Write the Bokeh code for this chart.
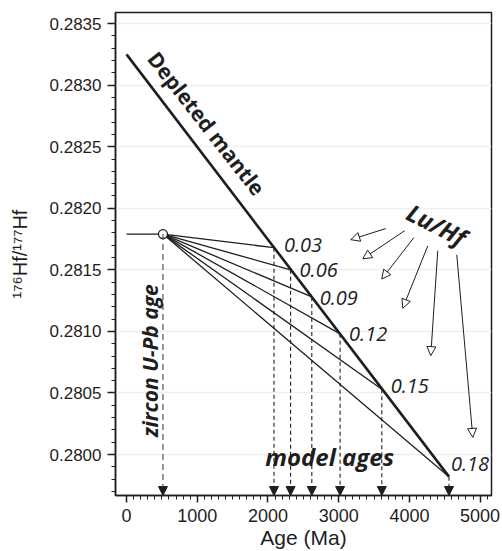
from bokeh.plotting import figure
from bokeh.models import (Label, Arrow, NormalHead, FixedTicker, PrintfTickFormatter,
                          ColumnDataSource, Range1d)
from bokeh.embed import file_html
from bokeh.resources import INLINE
from bokeh.core.properties import value

# ---------------- data ----------------
dm_age = [0, 4560]
dm_hf = [0.28325, 0.27982]
zircon_age = 515
zircon_hf = 0.28179
lu_hf_labels = ["0.03", "0.06", "0.09", "0.12", "0.15", "0.18"]
model_age = [2085, 2320, 2620, 3020, 3610, 4560]
model_hf = [0.28168, 0.28150, 0.28128, 0.28098, 0.28053, 0.27982]
x_ticks = [0, 1000, 2000, 3000, 4000, 5000]
y_ticks = [0.2800, 0.2805, 0.2810, 0.2815, 0.2820, 0.2825, 0.2830, 0.2835]

# ---------------- layout / style ----------------
X0, X1 = -156, 5161
Y0, Y1 = 0.279667, 0.28359
INK = "#1e1e1e"
AX_FONT = "Liberation Sans"
TXT_FONT = "Open Sans"

p = figure(width=500, height=551, x_range=Range1d(X0, X1), y_range=Range1d(Y0, Y1),
           output_backend="svg", toolbar_location=None,
           min_border_left=115, min_border_top=12, min_border_right=9, min_border_bottom=0)

p.outline_line_color = INK
p.outline_line_width = 1.5
p.xgrid.visible = False
p.ygrid.grid_line_color = "#efefef"
p.ygrid.grid_line_width = 1.5

x_minor = [v for v in range(100, 5200, 100) if v % 1000 != 0]
y_minor = [round(0.2797 + 0.0001 * i, 4) for i in range(0, 39)]
y_minor = [v for v in y_minor if round(v * 10000) % 5 != 0]
p.xaxis.ticker = FixedTicker(ticks=x_ticks, minor_ticks=x_minor)
p.yaxis.ticker = FixedTicker(ticks=y_ticks, minor_ticks=y_minor)
p.ygrid.ticker = FixedTicker(ticks=y_ticks)
p.yaxis.formatter = PrintfTickFormatter(format="%.4f")

for ax in (p.xaxis[0], p.yaxis[0]):
    ax.axis_line_color = INK
    ax.axis_line_width = 1.5
    ax.major_tick_line_color = INK
    ax.major_tick_line_width = 1.5
    ax.minor_tick_line_color = INK
    ax.minor_tick_line_width = 1
    ax.major_tick_in = 0
    ax.minor_tick_in = 0
    ax.major_label_text_font = AX_FONT
    ax.major_label_text_color = INK
    ax.axis_label_text_font = AX_FONT
    ax.axis_label_text_color = INK
    ax.axis_label_text_font_style = "normal"

p.xaxis.major_tick_out = 7
p.xaxis.minor_tick_out = 4
p.xaxis.major_label_standoff = 6
p.xaxis.major_label_text_font_size = "18px"
p.xaxis.axis_label = "Age (Ma)"
p.xaxis.axis_label_text_font_size = "21px"
p.xaxis.axis_label_standoff = 1

p.yaxis.major_tick_out = 8
p.yaxis.minor_tick_out = 4
p.yaxis.major_label_standoff = 6
p.yaxis.major_label_text_font_size = "17px"
p.yaxis.axis_label = "\u00b9\u2077\u2076Hf/\u00b9\u2077\u2077Hf"
p.yaxis.axis_label_text_font_size = "20px"
p.yaxis.axis_label_standoff = 16

# ---------------- marks ----------------
# depleted mantle
p.line(dm_age, dm_hf, line_width=2.6, line_color=INK)
# initial ratio line before crystallisation
p.line([0, zircon_age], [zircon_hf, zircon_hf], line_width=1.3, line_color=INK)
# Lu/Hf evolution lines
p.segment(x0=[zircon_age] * len(model_age), y0=[zircon_hf] * len(model_age),
          x1=model_age, y1=model_hf, line_width=1.3, line_color=INK)

# dashed arrows to model ages
arr_src = ColumnDataSource(dict(x=model_age, y=model_hf, ye=[Y0] * len(model_age)))
p.add_layout(Arrow(source=arr_src, x_start="x", y_start="y", x_end="x", y_end="ye",
                   line_dash="4 3", line_width=1.1, line_color=INK,
                   end=NormalHead(size=9, fill_color=INK, line_color=INK, line_width=1)))
# zircon age arrow
p.add_layout(Arrow(x_start=zircon_age, y_start=zircon_hf, x_end=zircon_age, y_end=Y0,
                   line_dash="6 4", line_width=1.2, line_color="#555555",
                   end=NormalHead(size=9, fill_color=INK, line_color=INK, line_width=1)))

# zircon point
p.scatter([zircon_age], [zircon_hf], marker="circle", size=9,
          fill_color="white", line_color=INK, line_width=1.3)

# Lu/Hf value labels
lbl_src = ColumnDataSource(dict(x=model_age, y=model_hf, t=lu_hf_labels,
                                dx=[10, 9, 8, 9, 9, 2], dy=[-3, 0, 1, 0, -3, -13]))
p.text(x="x", y="y", text="t", x_offset="dx", y_offset="dy", source=lbl_src,
       text_font=value(TXT_FONT), text_font_style="italic", text_font_size="20px",
       text_color=INK, text_align="left", text_baseline="middle")

# text annotations
p.add_layout(Label(x=1132, y=0.28269, text="Depleted mantle", angle=-52, angle_units="deg",
                   text_align="center", text_baseline="middle", text_font=TXT_FONT,
                   text_font_size="21px", text_font_style="bold", text_color=INK))
p.add_layout(Label(x=4387, y=0.281868, text="Lu/Hf", angle=-27, angle_units="deg",
                   text_align="center", text_baseline="middle", text_font=TXT_FONT,
                   text_font_size="24px", text_font_style="bold italic", text_color=INK))
p.add_layout(Label(x=325, y=0.280762, text="zircon U-Pb age", angle=90, angle_units="deg",
                   text_align="center", text_baseline="middle", text_font=TXT_FONT,
                   text_font_size="21px", text_font_style="bold italic", text_color=INK))
p.add_layout(Label(x=2873, y=0.279984, text="model ages",
                   text_align="center", text_baseline="middle", text_font=TXT_FONT,
                   text_font_size="24px", text_font_style="bold italic", text_color=INK))

# pointer arrows from the Lu/Hf label
ptr_x0 = [3665, 3934, 4062, 4260, 4401, 4670]
ptr_y0 = [0.281835, 0.281818, 0.281761, 0.281695, 0.281655, 0.281622]
ptr_x1 = [3170, 3340, 3609, 3906, 4302, 4897]
ptr_y1 = [0.281745, 0.281589, 0.281425, 0.281188, 0.280803, 0.280139]
ptr_src = ColumnDataSource(dict(x0=ptr_x0, y0=ptr_y0, x1=ptr_x1, y1=ptr_y1))
p.add_layout(Arrow(source=ptr_src, x_start="x0", y_start="y0", x_end="x1", y_end="y1",
                   line_width=1, line_color=INK,
                   end=NormalHead(size=9, fill_color="white", line_color=INK, line_width=1)))

open("out.html", "w").write(file_html(p, INLINE))
